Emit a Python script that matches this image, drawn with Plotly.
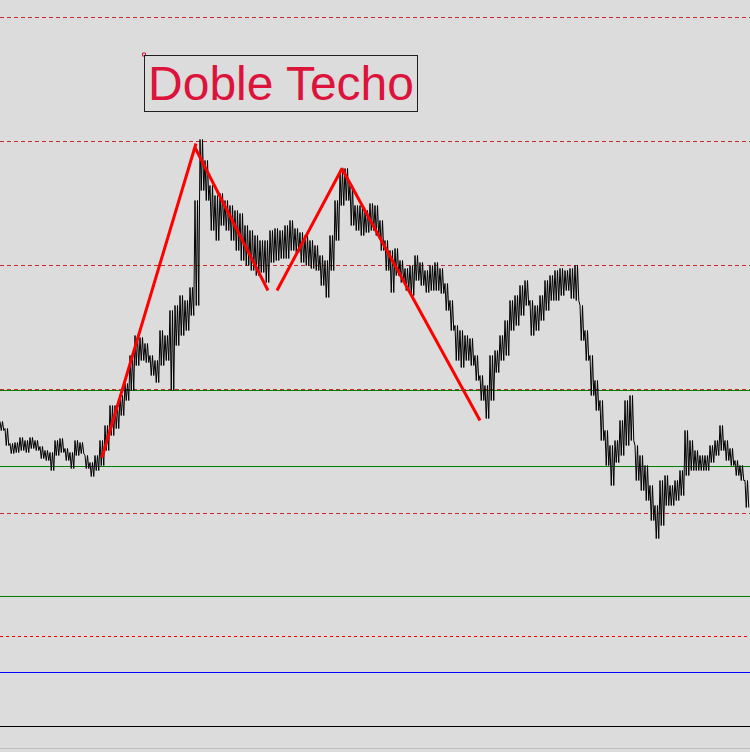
import plotly.graph_objects as go

# Price series read per time column (points above base), high / low per column
highs = [331, 324, 309, 310, 315, 312, 315, 312, 306, 302,
         300, 312, 314, 304, 300, 312, 310, 297, 290, 297,
         312, 327, 347, 347, 357, 369, 397, 417, 415, 409,
         397, 392, 422, 417, 442, 447, 457, 452, 465, 552,
         613, 592, 567, 557, 559, 552, 547, 542, 539, 527,
         522, 517, 512, 512, 522, 524, 522, 527, 532, 524,
         520, 517, 512, 507, 497, 492, 517, 552, 582, 584,
         567, 547, 547, 542, 549, 547, 532, 512, 502, 504,
         492, 484, 487, 497, 490, 482, 487, 490, 484, 469,
         452, 427, 422, 417, 414, 397, 377, 367, 397, 402,
         417, 432, 452, 457, 467, 472, 452, 447, 457, 472,
         477, 482, 484, 482, 484, 487, 447, 422, 397, 372,
         352, 322, 307, 312, 332, 352, 357, 307, 297, 287,
         267, 247, 272, 277, 267, 272, 282, 322, 312, 302,
         297, 297, 307, 312, 327, 312, 304, 292, 287, 272]
lows = [322, 307, 299, 300, 302, 300, 304, 302, 294, 292,
        282, 297, 300, 292, 284, 297, 299, 284, 276, 282,
        287, 302, 317, 324, 337, 352, 362, 387, 392, 390,
        377, 370, 387, 392, 362, 407, 417, 422, 437, 447,
        562, 552, 522, 512, 527, 522, 512, 502, 492, 487,
        482, 477, 480, 470, 490, 492, 494, 494, 502, 500,
        490, 487, 484, 482, 467, 455, 482, 512, 547, 552,
        527, 522, 517, 520, 522, 517, 502, 482, 460, 477,
        470, 462, 457, 472, 467, 460, 462, 462, 459, 442,
        422, 392, 385, 392, 387, 372, 352, 334, 352, 380,
        392, 397, 422, 427, 437, 447, 417, 422, 432, 442,
        452, 452, 457, 462, 454, 452, 412, 392, 357, 342,
        312, 287, 267, 290, 297, 307, 312, 272, 262, 252,
        232, 214, 227, 247, 247, 252, 257, 277, 282, 282,
        282, 282, 290, 297, 302, 292, 287, 277, 272, 245]

# Double-top pattern pivots (time column, price)
pattern_x = [20.4, 39.2, None, 39.0, 53.6, None, 55.4, 68.4, 68.6, 96.0]
pattern_y = [295, 609, None, 605, 462, None, 462, 584, 582, 332]

# Horizontal levels
dotted_levels = [735, 611, 487, 363, 239]
green_levels = [362, 286, 156]
red_level = 116
blue_level = 80
black_level = 26
frame_level = 4

label_text = "Doble Techo"
label_x, label_y = 28.8, 698

xs, ys = [], []
for i, (h, l) in enumerate(zip(highs, lows)):
    xs += [i, i + 0.25, i + 0.5, i + 0.75]
    ys += [h, l, h, l]

fig = go.Figure()

for lv in dotted_levels:
    fig.add_hline(y=lv, line=dict(color="#c82828", width=1, dash="4px,3px"), layer="below")
for lv in green_levels:
    fig.add_hline(y=lv, line=dict(color="#008000", width=1), layer="below")
fig.add_hline(y=red_level, line=dict(color="#ff0000", width=1, dash="3px,3px"), layer="below")
fig.add_hline(y=blue_level, line=dict(color="#0000ff", width=1), layer="below")
fig.add_hline(y=black_level, line=dict(color="#000000", width=1), layer="below")
fig.add_hline(y=frame_level, line=dict(color="#c0c0c0", width=1), layer="below")

fig.add_trace(go.Scatter(x=xs, y=ys, mode="lines",
                         line=dict(color="#000000", width=1), hoverinfo="skip"))
fig.add_trace(go.Scatter(x=pattern_x, y=pattern_y, mode="lines",
                         line=dict(color="#ff0000", width=3), connectgaps=False, hoverinfo="skip"))
fig.add_trace(go.Scatter(x=[label_x], y=[label_y], mode="markers",
                         marker=dict(symbol="square-open", size=3, color="#dc143c",
                                     line=dict(width=1, color="#dc143c")), hoverinfo="skip"))

fig.add_annotation(x=label_x, y=label_y, xref="x", yref="y", text=label_text,
                   showarrow=False, xanchor="left", yanchor="top",
                   font=dict(family="Liberation Sans, Arial, sans-serif", size=48, color="#dc143c"),
                   bordercolor="#202020", borderwidth=1, borderpad=0,
                   width=272, height=55, valign="middle", align="center")

fig.update_layout(width=750, height=752, margin=dict(l=0, r=0, t=0, b=0),
                  paper_bgcolor="#dcdcdc", plot_bgcolor="#dcdcdc",
                  showlegend=False, hovermode=False)
fig.update_xaxes(range=[0, 150], visible=False, showgrid=False, zeroline=False)
fig.update_yaxes(range=[0.5, 752.5], visible=False, showgrid=False, zeroline=False)

fig.write_html("out.html", config={"displayModeBar": False, "staticPlot": True})

# remove the default page margin so the chart fills the window
with open("out.html", encoding="utf-8") as f:
    html = f.read()
html = html.replace("<head>", "<head><style>html,body{margin:0;padding:0;background:#dcdcdc;overflow:hidden}</style>", 1)
with open("out.html", "w", encoding="utf-8") as f:
    f.write(html)
